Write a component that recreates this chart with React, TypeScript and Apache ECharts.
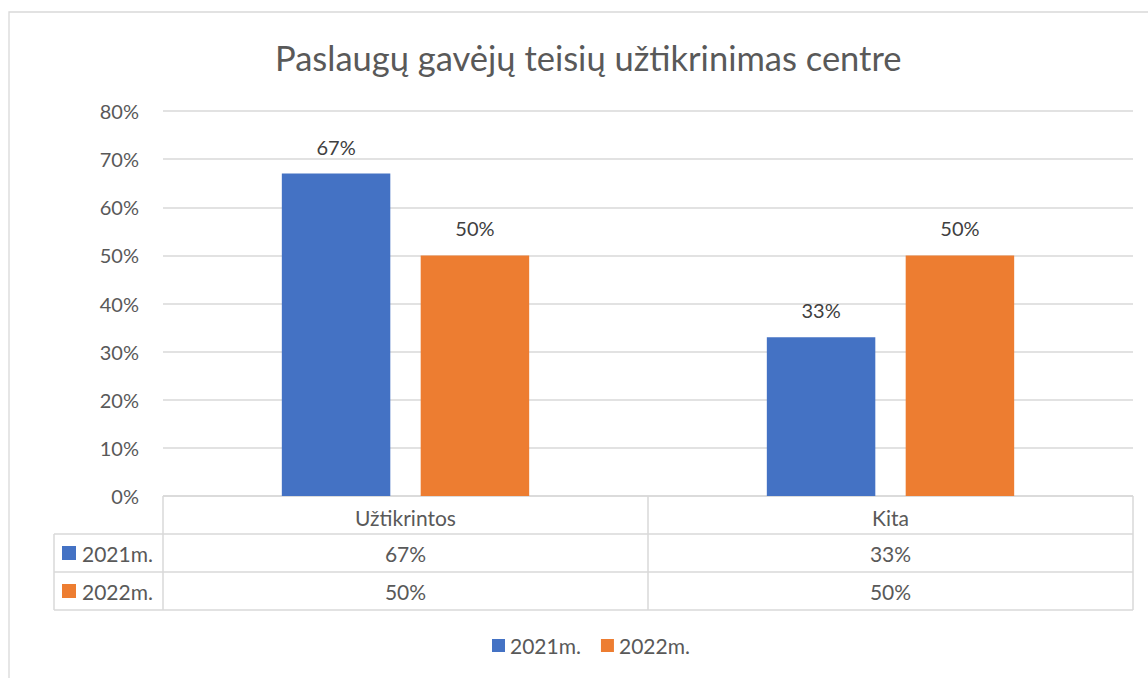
import React, { useEffect, useRef } from "react";
import * as echarts from "echarts";

const title = "Paslaugų gavėjų teisių užtikrinimas centre";
const categories = ["Užtikrintos", "Kita"];
const seriesNames = ["2021m.", "2022m."];
const values2021 = [67, 33];
const values2022 = [50, 50];
const colors = ["#4472C4", "#ED7D31"];
const yTicks = { min: 0, max: 80, interval: 10 };

const FONT = "Lato";
const FS = 21;
const W = 1148;
const H = 678;
const G_LEFT = 163;
const G_RIGHT = 1133;
const G_TOP = 111;
const G_BOTTOM = 496;
const ROW_H = 38;
const TABLE_LEFT = 54;
const LINE_C = "#d9d9d9";
const TXT = "#595959";

export default function App() {
  const ref = useRef<HTMLDivElement>(null);
  useEffect(() => {
    document.body.style.margin = "0";
    const chart = echarts.init(ref.current!, null, { renderer: "svg" });
    const allValues = [values2021, values2022];
    const catW = (G_RIGHT - G_LEFT) / categories.length;
    const graphics: any[] = [];
    graphics.push({
      type: "rect",
      shape: { x: 9, y: 12, width: 1200, height: 800 },
      style: { fill: "none", stroke: LINE_C, lineWidth: 1.3 },
      z: -10,
    });
    const line = (x1: number, y1: number, x2: number, y2: number) => ({
      type: "line",
      shape: { x1, y1, x2, y2 },
      style: { stroke: LINE_C, lineWidth: 1.5 },
    });
    const tableBottom = G_BOTTOM + ROW_H * (seriesNames.length + 1);
    graphics.push(line(G_LEFT, G_BOTTOM, G_RIGHT, G_BOTTOM));
    for (let r = 1; r <= seriesNames.length + 1; r++) {
      const y = G_BOTTOM + ROW_H * r;
      graphics.push(line(TABLE_LEFT, y, G_RIGHT, y));
    }
    graphics.push(line(TABLE_LEFT, G_BOTTOM + ROW_H, TABLE_LEFT, tableBottom));
    for (let c = 0; c <= categories.length; c++) {
      const x = G_LEFT + catW * c;
      graphics.push(line(x, G_BOTTOM, x, tableBottom));
    }
    seriesNames.forEach((name, si) => {
      const cy = G_BOTTOM + ROW_H * (si + 1) + ROW_H / 2;
      graphics.push({
        type: "rect",
        shape: { x: 62, y: cy - 7, width: 14, height: 14 },
        style: { fill: colors[si] },
      });
      graphics.push({
        type: "text",
        x: 82,
        y: cy,
        style: {
          text: name,
          fill: TXT,
          font: `${FS}px ${FONT}`,
          textVerticalAlign: "middle",
        },
      });
      categories.forEach((_, ci) => {
        graphics.push({
          type: "text",
          x: G_LEFT + catW * (ci + 0.5),
          y: cy,
          style: {
            text: allValues[si][ci] + "%",
            fill: TXT,
            font: `${FS}px ${FONT}`,
            textAlign: "center",
            textVerticalAlign: "middle",
          },
        });
      });
    });

    chart.setOption({
      animation: false,
      textStyle: { fontFamily: FONT },
      title: {
        text: title,
        left: 270,
        top: 35,
        textStyle: { fontSize: 34.5, fontWeight: "normal", color: TXT, fontFamily: FONT },
      },
      grid: {
        left: G_LEFT,
        right: W - G_RIGHT,
        top: G_TOP,
        bottom: H - G_BOTTOM,
        containLabel: false,
      },
      legend: {
        bottom: 17,
        left: 487,
        itemWidth: 13,
        itemHeight: 13,
        itemGap: 20,
        icon: "rect",
        textStyle: { fontSize: FS, color: TXT, fontFamily: FONT },
        data: seriesNames,
      },
      xAxis: {
        type: "category",
        data: categories,
        axisLine: { show: false },
        axisTick: { show: false },
        axisLabel: { color: TXT, fontSize: FS, margin: 11, fontFamily: FONT },
      },
      yAxis: {
        type: "value",
        min: yTicks.min,
        max: yTicks.max,
        interval: yTicks.interval,
        axisLabel: { formatter: "{value}%", color: TXT, fontSize: 20, margin: 24, fontFamily: FONT },
        splitLine: { lineStyle: { color: LINE_C, width: 1.5 } },
        axisLine: { show: false },
        axisTick: { show: false },
      },
      series: seriesNames.map((name, i) => ({
        name,
        type: "bar",
        data: allValues[i],
        barGap: "28%",
        barCategoryGap: "49%",
        itemStyle: { color: colors[i] },
        label: {
          show: true,
          position: "top",
          distance: 17,
          formatter: "{c}%",
          color: "#404040",
          fontSize: 20,
          fontFamily: FONT,
        },
      })),
      graphic: graphics,
    });
    return () => chart.dispose();
  }, []);
  return (
    <div
      ref={ref}
      style={{ position: "absolute", left: 0, top: 0, width: W, height: H, background: "#fff" }}
    />
  );
}
